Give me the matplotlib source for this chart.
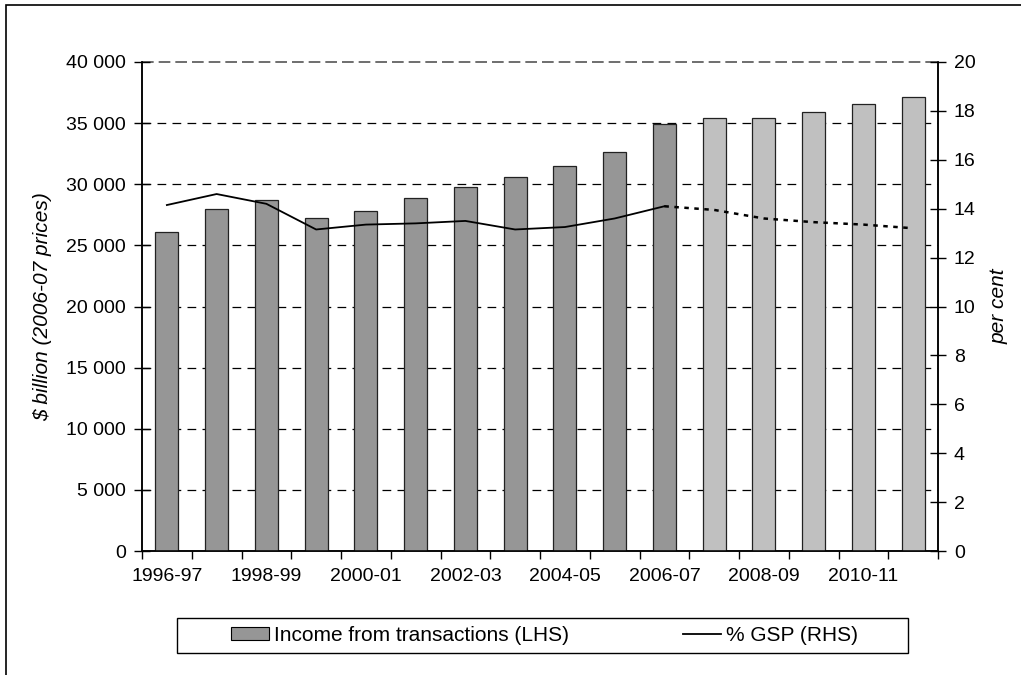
import numpy as np
import matplotlib
matplotlib.use('Agg')
import matplotlib.pyplot as plt
from matplotlib.patches import Rectangle, Patch
from matplotlib.lines import Line2D
from matplotlib.ticker import FuncFormatter

plt.rcParams['font.family'] = ['Liberation Sans', 'DejaVu Sans']

years = ['1996-97', '1997-98', '1998-99', '1999-00', '2000-01', '2001-02',
         '2002-03', '2003-04', '2004-05', '2005-06', '2006-07', '2007-08',
         '2008-09', '2009-10', '2010-11', '2011-12']
income = [26100, 28000, 28700, 27200, 27800, 28900, 29800, 30600,
          31500, 32600, 34900, 35450, 35450, 35950, 36600, 37100]
gsp_pct = [14.15, 14.6, 14.2, 13.15, 13.35, 13.4, 13.5, 13.15,
           13.25, 13.6, 14.1, 13.95, 13.6, 13.45, 13.35, 13.2]
n_actual = 11  # 1996-97 to 2006-07 actual, rest projected

DARK = '#969696'
LIGHT = '#c0c0c0'
TICK_FS = 14


def main():
    fig = plt.figure(figsize=(10.21, 6.75), dpi=100)
    ax = fig.add_axes([142 / 1021, 124 / 675, 796 / 1021, 489 / 675])
    ax2 = ax.twinx()

    x = np.arange(len(years))
    colors = [DARK if i < n_actual else LIGHT for i in range(len(years))]
    ax.bar(x, income, width=0.46, color=colors, edgecolor='#222222', linewidth=0.9, zorder=3)

    # grid lines
    for v in range(5000, 40000, 5000):
        ax.axhline(v, color='black', lw=0.9, dashes=(7, 5), zorder=1)
    ax.axhline(40000, color='#555555', lw=1.2, dashes=(7, 3), zorder=1, clip_on=False)

    ax.set_xlim(-0.5, len(years) - 0.5)
    ax.set_ylim(0, 40000)
    ax.set_yticks(range(0, 40001, 5000))
    ax.yaxis.set_major_formatter(FuncFormatter(lambda v, p: f'{int(v):,}'.replace(',', ' ')))
    ax.set_xticks(np.arange(-0.5, len(years), 1))
    ax.set_xticklabels([])
    ax.set_xticks(x[::2], minor=True)
    ax.set_xticklabels(years[::2], minor=True)
    ax.tick_params(axis='x', which='major', direction='out', length=6, width=1)
    ax.tick_params(axis='x', which='minor', length=0, pad=12, labelsize=TICK_FS)
    ax.tick_params(axis='y', direction='inout', length=11, width=1, labelsize=TICK_FS, pad=6)
    ax.set_ylabel('$ billion (2006-07 prices)', fontsize=15, style='italic', labelpad=10)

    ax2.plot(x[:n_actual], gsp_pct[:n_actual], color='black', lw=1.3, zorder=4)
    ax2.plot(x[n_actual - 1:], gsp_pct[n_actual - 1:], color='black', lw=1.8,
             dashes=(1.8, 2.2), zorder=4)
    ax2.set_ylim(0, 20)
    ax2.set_yticks(range(0, 21, 2))
    ax2.tick_params(axis='y', direction='inout', length=11, width=1, labelsize=TICK_FS, pad=6)
    ax2.set_ylabel('per cent', fontsize=15, style='italic', labelpad=10)

    for a in (ax, ax2):
        a.spines['top'].set_visible(False)
        for s in ('left', 'right', 'bottom'):
            a.spines[s].set_linewidth(1.1)
    ax.set_zorder(ax2.get_zorder() - 1)
    ax.patch.set_visible(True)
    ax2.patch.set_visible(False)

    # legend in a separate box
    lx0, ly0, lx1, ly1 = 177, 618, 908, 653
    fig.patches.append(Rectangle((lx0 / 1021, 1 - ly1 / 675), (lx1 - lx0) / 1021,
                                 (ly1 - ly0) / 675, transform=fig.transFigure,
                                 fill=False, edgecolor='black', lw=1))
    handles = [Patch(facecolor=DARK, edgecolor='black', lw=0.8),
               Line2D([], [], color='black', lw=1.3)]
    fig.legend(handles, ['Income from transactions (LHS)', '% GSP (RHS)'],
               loc='center', bbox_to_anchor=(544.5 / 1021, 1 - 635.5 / 675),
               ncol=2, frameon=False, fontsize=15, handlelength=1.83,
               handleheight=0.53, handletextpad=0.24, columnspacing=5.43)

    # outer border
    fig.patches.append(Rectangle((6 / 1021, -0.05), 1.1, 1 - 5 / 675 + 0.05,
                                 transform=fig.transFigure, fill=False,
                                 edgecolor='black', lw=1.2))

    fig.savefig('out.png', dpi=100)


if __name__ == '__main__':
    main()
